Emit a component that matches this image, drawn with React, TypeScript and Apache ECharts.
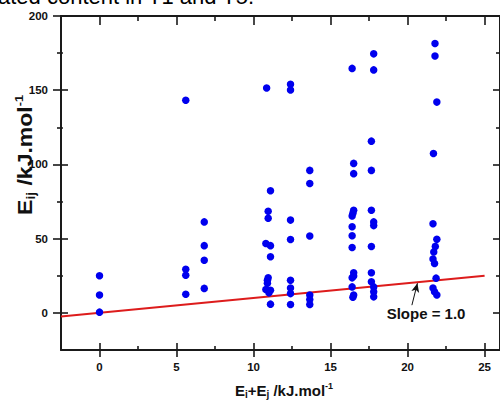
import React, { useEffect, useRef } from "react";
import * as echarts from "echarts";

// ---- data ----
const col0 = [[0, 25], [0, 12], [0, 0.5]];
const col1 = [[5.6, 143.3], [5.6, 29.4], [5.6, 25.4], [5.6, 12.6]];
const col2 = [[6.8, 61.3], [6.8, 45.3], [6.8, 35.5], [6.8, 16.5]];
const col3 = [
  [10.85, 151.5], [11.1, 82.3], [10.95, 68.4], [10.95, 63.7], [10.8, 46.8], [11.1, 45.3],
  [11.1, 37.8], [10.95, 23.7], [10.9, 22], [10.9, 20], [10.8, 15.8], [11.1, 15.3], [11.0, 13.5], [11.1, 5.9],
];
const col4 = [[12.4, 154], [12.4, 150.2], [12.4, 62.5], [12.4, 49.4], [12.4, 22], [12.4, 16.8], [12.4, 13], [12.4, 5.7]];
const col5 = [[13.65, 96], [13.65, 87.2], [13.65, 51.8], [13.65, 12], [13.65, 9], [13.65, 5.7]];
const col6 = [
  [16.4, 164.7], [16.5, 100.7], [16.5, 93.8], [16.5, 69.2], [16.45, 67.2], [16.4, 65.3], [16.4, 58],
  [16.4, 52], [16.4, 44], [16.5, 27], [16.5, 24.8], [16.4, 23.6], [16.4, 17.5], [16.5, 12], [16.45, 10.6],
];
const col7 = [
  [17.8, 174.5], [17.8, 163.7], [17.65, 115.7], [17.65, 96], [17.65, 69.2], [17.8, 61.3], [17.8, 58.8],
  [17.65, 44.7], [17.65, 27], [17.65, 20.9], [17.8, 17.5], [17.8, 14.2], [17.8, 10.8],
];
const col8 = [
  [21.78, 181.5], [21.78, 173], [21.9, 142], [21.68, 107.4], [21.65, 60.1], [21.9, 49.6], [21.8, 44.8],
  [21.7, 41], [21.65, 36.3], [21.75, 33.3], [21.85, 23.4], [21.65, 16.8], [21.75, 14.2], [21.9, 12],
];
const slopeLine = [[-2.5, -2.5], [25, 25]];
const arrowFrom = [20.28, 5.2];
const arrowTo = [20.64, 20.0];
const slopeLabelAt = [21.2, -0.2];

const xMajorTicks = [0, 5, 10, 15, 20, 25];
const xMinorTicks = [2.5, 7.5, 12.5, 17.5, 22.5];
const yMajorTicks = [0, 50, 100, 150, 200];
const yMinorTicks = [25, 75, 125, 175];

const FONT = "'Liberation Sans', Arial, sans-serif";
const INK = "#1a1a1a";

function xAx(position: string, ticks: number[], inside: boolean, len: number, line: boolean, labels: boolean) {
  return {
    type: "value", position, min: -2.5, max: 26, interval: 2.5,
    axisLine: { show: line, onZero: false, lineStyle: { color: INK, width: 2 } },
    axisTick: { show: true, inside, length: len, customValues: ticks, lineStyle: { color: INK, width: 1.6 } },
    axisLabel: labels
      ? { show: true, customValues: xMajorTicks, margin: 11, color: "#111", fontSize: 11.5, fontWeight: "bold", fontFamily: FONT }
      : { show: false },
    splitLine: { show: false },
  };
}
function yAx(position: string, ticks: number[], inside: boolean, len: number, line: boolean, labels: boolean) {
  return {
    type: "value", position, min: -25, max: 200, interval: 25,
    axisLine: { show: line, onZero: false, lineStyle: { color: INK, width: 2 } },
    axisTick: { show: true, inside, length: len, customValues: ticks, lineStyle: { color: INK, width: 1.6 } },
    axisLabel: labels
      ? { show: true, customValues: yMajorTicks, margin: 13, color: "#111", fontSize: 11.5, fontWeight: "bold", fontFamily: FONT }
      : { show: false },
    splitLine: { show: false },
  };
}

export default function App() {
  const ref = useRef<HTMLDivElement>(null);
  useEffect(() => {
    if (!ref.current) return;
    const chart = echarts.init(ref.current, undefined, { renderer: "svg" });
    const points = [...col0, ...col1, ...col2, ...col3, ...col4, ...col5, ...col6, ...col7, ...col8];
    const sub = { fontSize: 12, fontWeight: "bold", fontFamily: FONT, fill: "#111", color: "#111", verticalAlign: "bottom", lineHeight: 8 };
    const sup = { fontSize: 11, fontWeight: "bold", fontFamily: FONT, fill: "#111", color: "#111", verticalAlign: "top", lineHeight: 8 };
    chart.setOption({
      animation: false,
      backgroundColor: "#ffffff",
      grid: { left: 61, top: 16, right: -2, bottom: 52 },
      xAxis: [
        xAx("bottom", xMajorTicks, false, 7, true, true),
        xAx("bottom", xMajorTicks, true, 7, false, false),
        xAx("bottom", xMinorTicks, true, 4, false, false),
        xAx("top", xMajorTicks, true, 9, true, false),
        xAx("top", xMinorTicks, true, 5, false, false),
      ],
      yAxis: [
        yAx("left", yMajorTicks, false, 8, true, true),
        yAx("left", yMajorTicks, true, 7, false, false),
        yAx("left", yMinorTicks, false, 4, false, false),
        yAx("left", yMinorTicks, true, 2, false, false),
        yAx("right", yMajorTicks, true, 7, true, false),
        yAx("right", yMinorTicks, true, 4, false, false),
      ],
      series: [
        {
          type: "line", data: slopeLine, xAxisIndex: 0, yAxisIndex: 0, showSymbol: false, symbol: "none",
          lineStyle: { color: "#dd1c1c", width: 2 }, silent: true, z: 2,
          markLine: {
            silent: true, symbol: ["none", "arrow"], symbolSize: [6, 9],
            lineStyle: { color: "#111", width: 1, type: "solid" }, label: { show: false },
            data: [[{ coord: arrowFrom }, { coord: arrowTo }]],
          },
        },
        {
          type: "scatter", data: points, xAxisIndex: 0, yAxisIndex: 0, symbol: "circle", symbolSize: 7.5,
          itemStyle: { color: "#0000ee", opacity: 1 }, z: 3,
        },
      ],
    });
    const lp = chart.convertToPixel({ xAxisIndex: 0, yAxisIndex: 0 }, slopeLabelAt) as number[];
    chart.setOption({
      graphic: [
        {
          type: "text", x: -2, y: 7,
          style: { text: "ated content in T1 and T5.", fontSize: 22, fontFamily: FONT, fill: "#000", verticalAlign: "bottom" },
        },
        {
          type: "text", x: lp[0], y: lp[1],
          style: { text: "Slope = 1.0", fontSize: 15, fontWeight: "bold", fontFamily: FONT, fill: "#111", align: "center", verticalAlign: "middle" },
        },
        {
          type: "text", x: 25, y: 155, rotation: Math.PI / 2, scaleX: 1.15, scaleY: 1,
          style: {
            text: "{b|E}{s|ij}{b| /kJ.mol}{p|-1}", align: "center", verticalAlign: "middle",
            rich: {
              b: { fontSize: 20, fontWeight: "bold", fontFamily: FONT, fill: "#111", color: "#111", lineHeight: 23 },
              s: { ...sub, fontSize: 12, lineHeight: 8 }, p: { ...sup, fontSize: 11, lineHeight: 8 },
            },
          },
        },
        {
          type: "text", x: 284, y: 390,
          style: {
            text: "{b|E}{s|i}{b|+E}{s|j}{b| /kJ.mol}{p|-1}", align: "center", verticalAlign: "middle",
            rich: {
              b: { fontSize: 15, fontWeight: "bold", fontFamily: FONT, fill: "#111", color: "#111", lineHeight: 18 },
              s: { ...sub, fontSize: 10, lineHeight: 6 }, p: { ...sup, fontSize: 9, lineHeight: 6 },
            },
          },
        },
      ],
    });
    return () => chart.dispose();
  }, []);
  return <div ref={ref} style={{ position: "fixed", left: 0, top: 0, width: 500, height: 402, background: "#fff" }} />;
}
